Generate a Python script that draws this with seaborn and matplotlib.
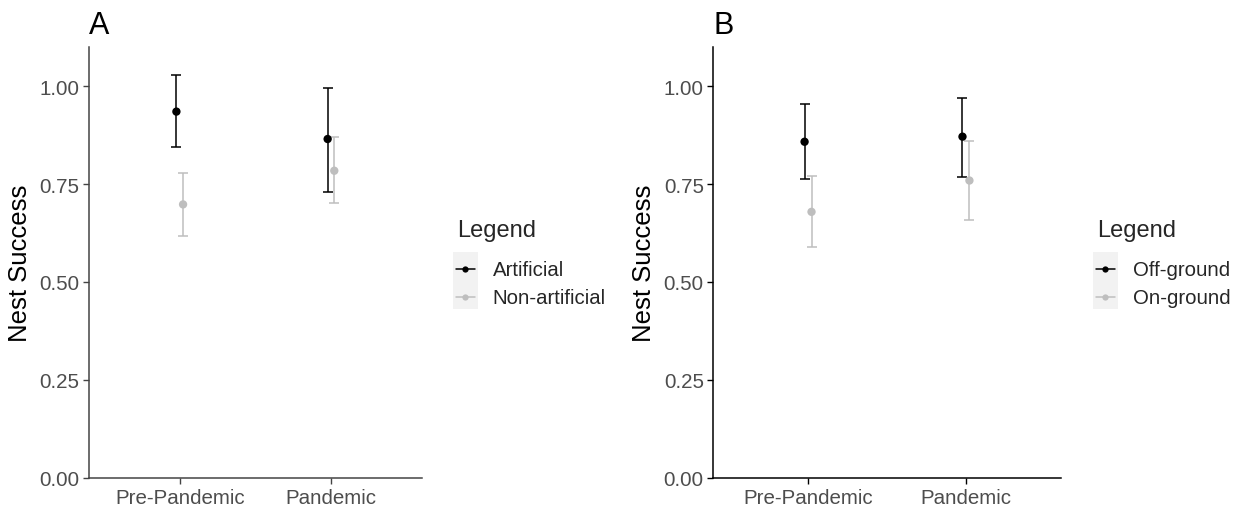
import matplotlib
matplotlib.use("Agg")
import matplotlib.pyplot as plt
from matplotlib.patches import Rectangle
import numpy as np
import pandas as pd
import seaborn as sns

# Nest success estimates with 95% confidence limits
periods = ["Pre-Pandemic", "Pandemic"]

groups_a = ["Artificial", "Non-artificial"]
est_a = {"Artificial": [0.935, 0.865], "Non-artificial": [0.698, 0.784]}
low_a = {"Artificial": [0.845, 0.730], "Non-artificial": [0.618, 0.701]}
high_a = {"Artificial": [1.029, 0.995], "Non-artificial": [0.778, 0.871]}

groups_b = ["Off-ground", "On-ground"]
est_b = {"Off-ground": [0.858, 0.871], "On-ground": [0.679, 0.759]}
low_b = {"Off-ground": [0.762, 0.768], "On-ground": [0.589, 0.657]}
high_b = {"Off-ground": [0.954, 0.970], "On-ground": [0.771, 0.859]}

y_ticks = [0.00, 0.25, 0.50, 0.75, 1.00]

colors = ["#000000", "#BEBEBE"]
dodge = [-0.022, 0.022]

sns.set_theme(style="white")
plt.rcParams["font.family"] = ["Liberation Sans", "DejaVu Sans"]

W, H = 1239, 510
fig = plt.figure(figsize=(W / 100, H / 100), dpi=100)


def frame(groups, est, low, high):
    rows = []
    for g in groups:
        for i, p in enumerate(periods):
            rows.append({"Period": p, "Group": g, "Estimate": est[g][i],
                         "Lower": low[g][i], "Upper": high[g][i]})
    return pd.DataFrame(rows)


def panel(rect, tag, groups, est, low, high, axis_color, legend_x, ylabel_x):
    left, right, top, bottom = rect
    ax = fig.add_axes([left / W, 1 - bottom / H, (right - left) / W, (bottom - top) / H])
    df = frame(groups, est, low, high)
    df["x"] = df["Period"].map({p: i for i, p in enumerate(periods)}) + \
        df["Group"].map({g: d for g, d in zip(groups, dodge)})

    for g, c in zip(groups, colors):
        sub = df[df["Group"] == g]
        ax.errorbar(sub["x"], sub["Estimate"],
                    yerr=[sub["Estimate"] - sub["Lower"], sub["Upper"] - sub["Estimate"]],
                    fmt="none", ecolor=c, elinewidth=1.1, capsize=3.3, capthick=1.1, zorder=2)
    sns.scatterplot(data=df, x="x", y="Estimate", hue="Group", hue_order=groups,
                    palette=colors, s=36, edgecolor="none", legend=False, ax=ax, zorder=3)

    ax.set_xlim(-0.6, 1.6)
    ax.set_ylim(0, 1.1)
    ax.set_xticks(range(len(periods)))
    ax.set_xticklabels(periods)
    ax.set_yticks(y_ticks)
    ax.set_yticklabels([f"{v:.2f}" for v in y_ticks])
    ax.set_xlabel("")
    ax.set_ylabel("Nest Success", fontsize=18.5, color="black")
    # anchor is the baseline side of the rotated label
    ax.yaxis.set_label_coords((ylabel_x - left) / (right - left), 0.5)
    for s in ["top", "right"]:
        ax.spines[s].set_visible(False)
    for s in ["left", "bottom"]:
        ax.spines[s].set_color(axis_color)
        ax.spines[s].set_linewidth(1.1)
    ax.tick_params(axis="both", which="major", length=4.3, width=1.0, color=axis_color,
                   labelsize=14.8, labelcolor="#4D4D4D", left=True, bottom=True)
    ax.tick_params(axis="y", pad=2.5)
    ax.tick_params(axis="x", pad=3.0)

    ax.text(0.0, 1 + 14 / (bottom - top), tag, transform=ax.transAxes, fontsize=22,
            ha="left", va="baseline", color="black")

    # legend: title, key column with grey background, labels
    fig.text(legend_x / W, 1 - 231 / H, "Legend", fontsize=17, ha="left", va="center")
    key_left, key_w = legend_x - 4, 25.5
    fig.patches.append(Rectangle((key_left / W, 1 - 310 / H), key_w / W, 57 / H,
                                 transform=fig.transFigure, facecolor="#F2F2F2",
                                 edgecolor="none", zorder=0))
    for k, (g, c) in enumerate(zip(groups, colors)):
        yk = 1 - (270 + 28 * k) / H
        fig.lines.append(plt.Line2D([(key_left + 3) / W, (key_left + key_w - 3) / W], [yk, yk],
                                    transform=fig.transFigure, color=c, lw=1.1))
        fig.lines.append(plt.Line2D([(key_left + key_w / 2) / W], [yk], marker="o",
                                    markersize=4.5, markeredgewidth=0, color=c,
                                    transform=fig.transFigure))
        fig.text((legend_x + 36) / W, yk, g, fontsize=14.7, ha="left", va="center")
    return ax


panel((89, 421.7, 48, 478.7), "A", groups_a, est_a, low_a, high_a, "#444444", 456.7, 32)
panel((713.3, 1060.7, 48, 478.7), "B", groups_b, est_b, low_b, high_b, "#000000", 1096.7, 656)

fig.savefig("out.png", dpi=100, facecolor="white")
